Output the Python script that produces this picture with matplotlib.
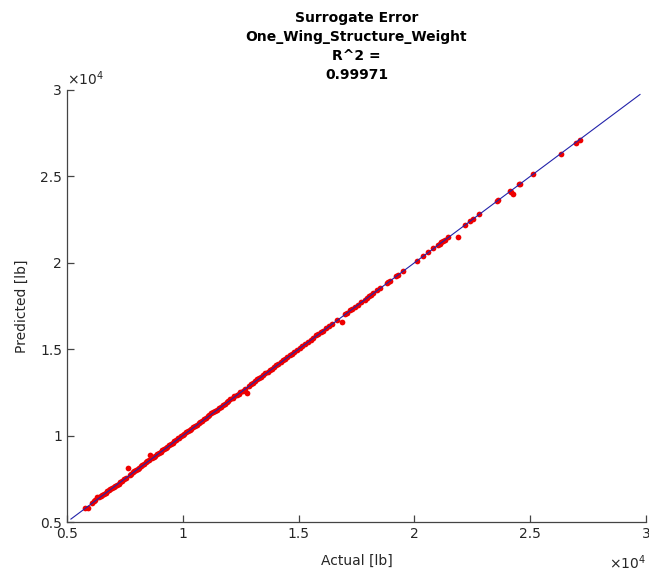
import matplotlib
matplotlib.use("Agg")
import matplotlib.pyplot as plt

# actual vs. surrogate-predicted weight [lb]
actual = [
    5790, 5910, 6080, 6150, 6230, 6310, 6390, 6450, 6520, 6600,
    6680, 6720, 6810, 6870, 6940, 7020, 7090, 7150, 7230, 7310,
    7380, 7460, 7530, 7620, 7700, 7760, 7840, 7910, 7980, 8050,
    8120, 8190, 8260, 8330, 8400, 8470, 8550, 8600, 8680, 8750,
    8820, 8900, 8970, 9040, 9110, 9180, 9260, 9330, 9410, 9480,
    9560, 9630, 9710, 9790, 9850, 9920, 9990, 10060, 10140, 10220,
    10300, 10370, 10450, 10520, 10600, 10680, 10750, 10830, 10910, 10990,
    11070, 11150, 11230, 11310, 11390, 11470, 11560, 11640, 11720, 11810,
    11890, 11970, 12060, 12150, 12230, 12320, 12410, 12490, 12580, 12670,
    12770, 12850, 12940, 13030, 13120, 13210, 13300, 13390, 13480, 13570,
    13660, 13760, 13850, 13940, 14040, 14130, 14230, 14320, 14420, 14510,
    14610, 14710, 14800, 14930, 15050, 15160, 15280, 15400, 15520, 15640,
    15760, 15840, 15950, 16050, 16180, 16320, 16450, 16650, 16870, 16990,
    17090, 17200, 17300, 17440, 17560, 17700, 17850, 17950, 18040, 18120,
    18210, 18380, 18520, 18800, 18880, 18950, 19200, 19290, 19520, 20110,
    20350, 20580, 20820, 21000, 21090, 21160, 21240, 21320, 21450, 21880,
    22180, 22400, 22530, 22790, 23570, 23610, 24130, 24180, 24260, 24520,
    24560, 25120, 26330, 26980, 27150,
]
predicted = [
    5800, 5790, 6110, 6230, 6300, 6420, 6470, 6530, 6560, 6620,
    6700, 6790, 6880, 6920, 6960, 7040, 7080, 7170, 7210, 7330,
    7400, 7480, 7550, 8120, 7720, 7800, 7900, 7960, 8020, 8080,
    8150, 8230, 8300, 8360, 8480, 8520, 8590, 8900, 8720, 8790,
    8840, 8930, 9000, 9060, 9150, 9200, 9280, 9350, 9440, 9500,
    9600, 9660, 9740, 9880, 9840, 9960, 10030, 10080, 10190, 10240,
    10320, 10400, 10480, 10560, 10620, 10720, 10790, 10860, 10940, 11020,
    11110, 11170, 11280, 11340, 11420, 11510, 11580, 11680, 11770, 11830,
    11920, 12010, 12090, 12170, 12270, 12330, 12430, 12520, 12600, 12690,
    12460, 12870, 12980, 13060, 13150, 13250, 13320, 13420, 13510, 13600,
    13690, 13790, 13880, 13970, 14060, 14170, 14250, 14350, 14440, 14540,
    14640, 14730, 14830, 14950, 15080, 15190, 15300, 15430, 15550, 15660,
    15800, 15860, 15970, 16060, 16220, 16350, 16480, 16670, 16570, 17010,
    17100, 17240, 17320, 17470, 17580, 17720, 17840, 17990, 18050, 18150,
    18240, 18400, 18540, 18820, 18900, 18960, 19220, 19300, 19540, 20130,
    20380, 20600, 20840, 21030, 21110, 21190, 21260, 21340, 21490, 21490,
    22200, 22420, 22560, 22800, 23600, 23650, 24150, 24120, 23980, 24540,
    24580, 25140, 26320, 26960, 27120,
]

# ideal fit line
line_x = [5170, 29740]
line_y = [5170, 29740]

ticks = [5000, 10000, 15000, 20000, 25000, 30000]
tick_labels = ["0.5", "1", "1.5", "2", "2.5", "3"]

fig = plt.figure(figsize=(6.49, 5.71), dpi=100)
ax = fig.add_axes([0.1032, 0.0858, 0.8922, 0.7566])

ax.scatter(actual, predicted, s=17, color="#ee0000", linewidths=0, zorder=2)
ax.plot(line_x, line_y, color="#2222aa", linewidth=0.8, zorder=3)

ax.set_xlim(5000, 30000)
ax.set_ylim(5000, 30000)
ax.set_xticks(ticks)
ax.set_xticklabels(tick_labels)
ax.set_yticks(ticks)
ax.set_yticklabels(tick_labels)

axis_color = "#444444"
for side in ["top", "right"]:
    ax.spines[side].set_visible(False)
for side in ["left", "bottom"]:
    ax.spines[side].set_color(axis_color)
    ax.spines[side].set_linewidth(0.9)
ax.tick_params(direction="in", length=5, width=0.9, colors=axis_color,
               labelcolor="#262626", labelsize=10)

ax.set_xlabel("Actual [lb]", fontsize=10, color="#262626", labelpad=9)
ax.set_ylabel("Predicted [lb]", fontsize=10, color="#262626", labelpad=8)

ax.text(0.0, 1.004, r"$\times10^{4}$", transform=ax.transAxes,
        ha="left", va="bottom", fontsize=10, color="#262626")
ax.text(1.0, -0.095, r"$\times10^{4}$", transform=ax.transAxes,
        ha="right", va="center", fontsize=10, color="#262626")

ax.set_title("Surrogate Error\nOne_Wing_Structure_Weight\nR^2 =\n0.99971",
             fontsize=10, fontweight="bold", linespacing=1.45, pad=8)

fig.savefig("out.png", dpi=100)
